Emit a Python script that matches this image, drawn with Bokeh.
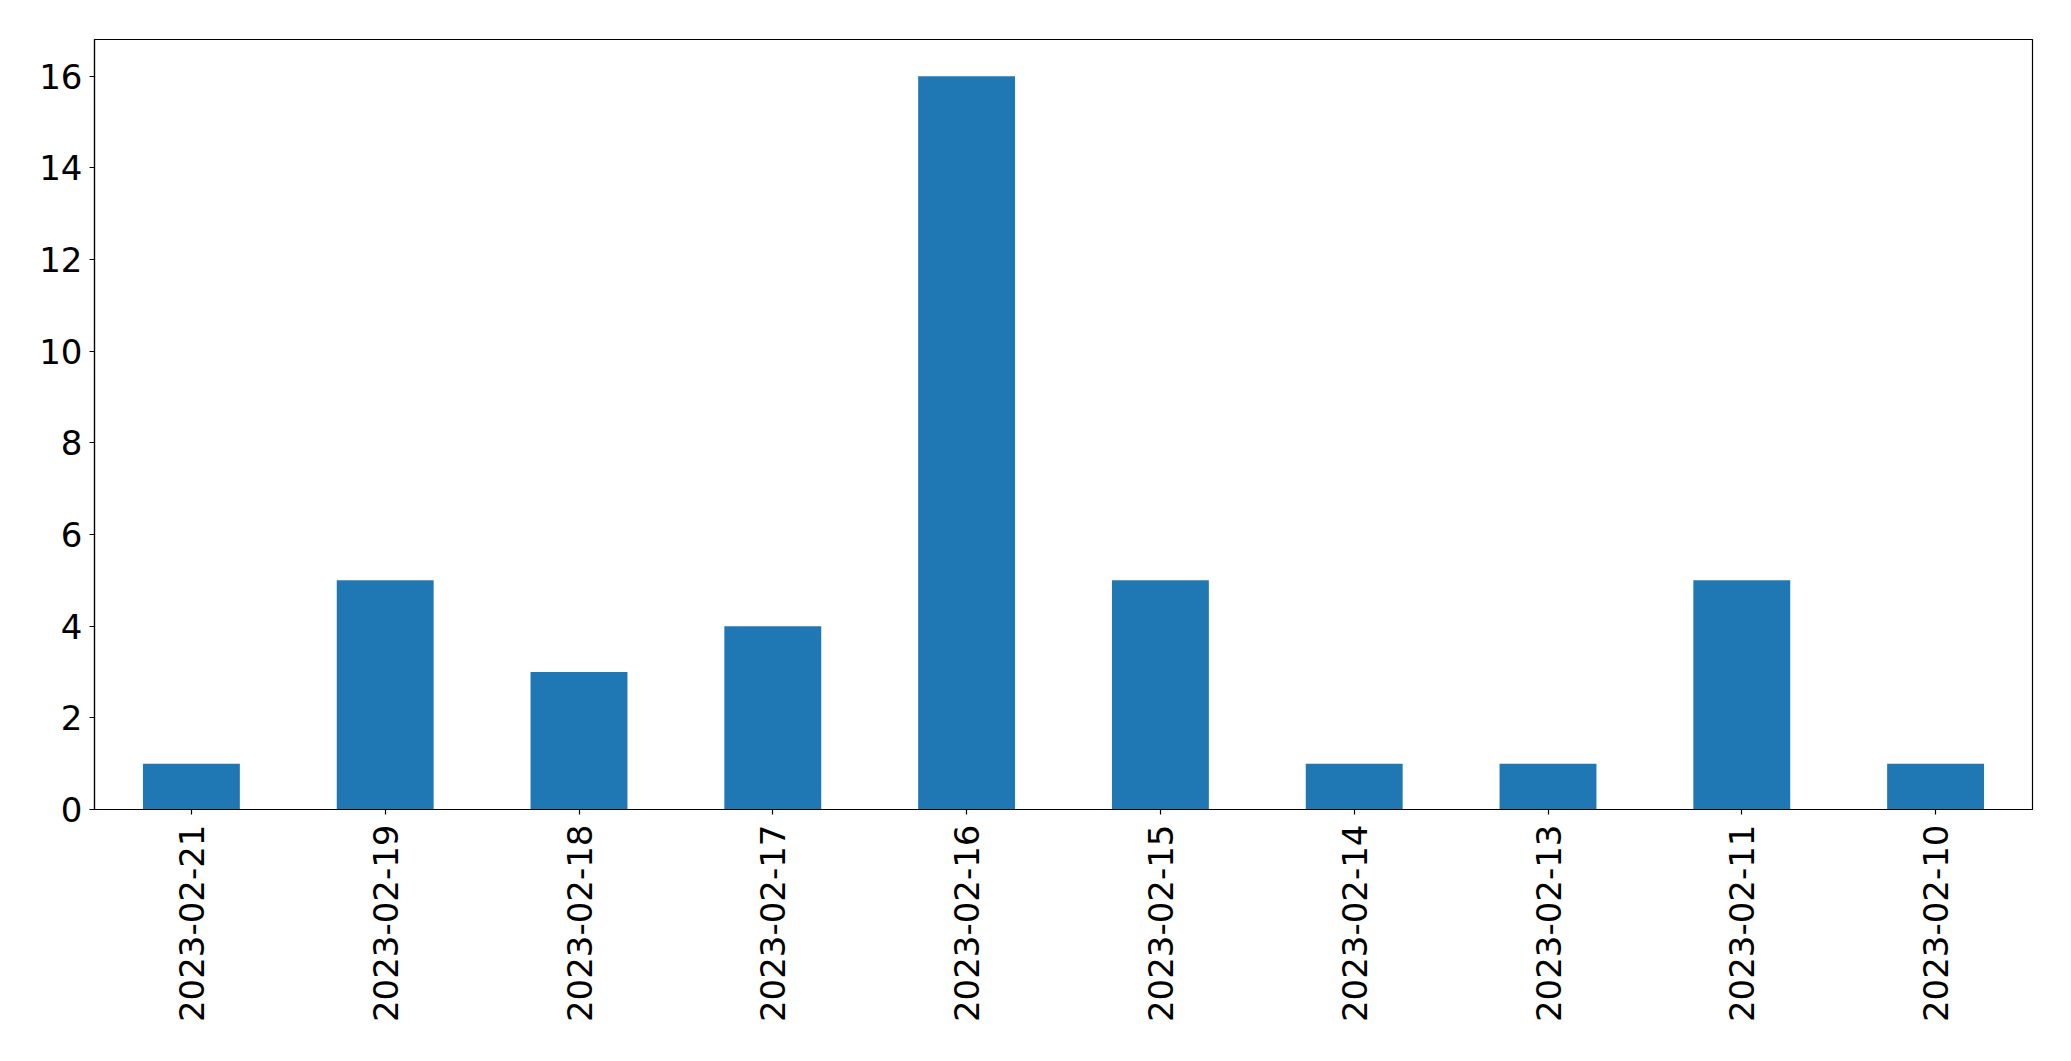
import math
from bokeh.plotting import figure
from bokeh.models import FactorRange, Range1d, FixedTicker
from bokeh.embed import file_html
from bokeh.resources import INLINE

dates = ["2023-02-21", "2023-02-19", "2023-02-18", "2023-02-17", "2023-02-16",
         "2023-02-15", "2023-02-14", "2023-02-13", "2023-02-11", "2023-02-10"]
counts = [1, 5, 3, 4, 16, 5, 1, 1, 5, 1]
y_ticks = [0, 2, 4, 6, 8, 10, 12, 14, 16]

p = figure(x_range=FactorRange(factors=dates, factor_padding=0.0, range_padding=0.0),
           y_range=Range1d(0, 16.8),
           frame_width=1938, frame_height=770,
           min_border_left=94, min_border_top=39, min_border_right=31, min_border_bottom=10,
           output_backend="svg", toolbar_location=None,
           background_fill_color="white", border_fill_color="white")

p.vbar(x=dates, top=counts, width=0.5, fill_color="#1f77b4", line_color=None)

p.xgrid.grid_line_color = None
p.ygrid.grid_line_color = None
p.outline_line_color = "black"
p.outline_line_width = 1.2
p.outline_line_alpha = 1.0

for ax in (p.xaxis[0], p.yaxis[0]):
    ax.axis_line_color = "black"
    ax.axis_line_width = 1.2
    ax.major_tick_in = 0
    ax.major_tick_out = 5
    ax.major_tick_line_color = "black"
    ax.major_tick_line_width = 1.2
    ax.minor_tick_line_color = None
    ax.major_label_text_font = "DejaVu Sans"
    ax.major_label_text_font_size = "34px"
    ax.major_label_text_color = "black"

p.yaxis[0].ticker = FixedTicker(ticks=y_ticks)
p.yaxis[0].major_label_standoff = 7
p.xaxis[0].major_label_orientation = math.pi / 2
p.xaxis[0].major_label_standoff = 10

open("out.html", "w").write(file_html(p, INLINE))
